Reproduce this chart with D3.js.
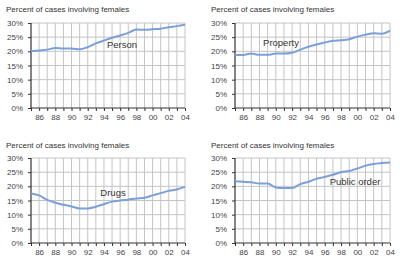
<!DOCTYPE html>
<html><head><meta charset="utf-8">
<script src="https://cdn.jsdelivr.net/npm/d3@7"></script>
<style>body{margin:0;background:#fff}svg{display:block}text{font-family:"Liberation Sans",Arial,sans-serif}</style>
</head><body><svg id="c" width="400" height="261"></svg>
<script>
const years = d3.range(1985, 2005);
const yTicks = [0, 5, 10, 15, 20, 25, 30];
const xTickYears = [1986, 1988, 1990, 1992, 1994, 1996, 1998, 2000, 2002, 2004];
const titleText = "Percent of cases involving females";
const seriesNames = ["Person", "Property", "Drugs", "Public order"];
const person = [20.0, 20.3, 20.6, 21.2, 21.0, 21.0, 20.7, 21.5, 22.8, 23.8, 24.8, 25.6, 26.5, 27.7, 27.6, 27.8, 28.0, 28.5, 28.9, 29.4];
const property = [18.7, 18.7, 19.2, 18.8, 18.8, 19.2, 19.2, 19.5, 20.6, 21.6, 22.4, 23.1, 23.7, 23.9, 24.3, 25.2, 25.9, 26.4, 26.2, 27.3];
const drugs = [17.5, 16.8, 15.2, 14.2, 13.5, 12.9, 12.2, 12.2, 12.8, 13.7, 14.6, 15.0, 15.3, 15.7, 16.0, 16.8, 17.6, 18.4, 18.9, 19.8];
const publicOrder = [21.8, 21.6, 21.4, 21.0, 21.0, 19.6, 19.4, 19.4, 20.8, 21.6, 22.7, 23.3, 24.1, 25.0, 25.4, 26.3, 27.3, 27.9, 28.2, 28.4];
const seriesValues = [person, property, drugs, publicOrder];

const panels = [
  {x0: 31, x1: 185, y0: 23, y1: 108, tx: 6, ty: 12, lx: 122, ly: 48},
  {x0: 235, x1: 390, y0: 23, y1: 108, tx: 211, ty: 12, lx: 281, ly: 46},
  {x0: 31, x1: 185, y0: 158, y1: 243, tx: 6, ty: 148, lx: 113, ly: 196},
  {x0: 235, x1: 390, y0: 158, y1: 243, tx: 211, ty: 148, lx: 355, ly: 185}
];
const svg = d3.select("#c");
panels.forEach((p, i) => {
  const x = d3.scaleLinear().domain([1985, 2004]).range([p.x0, p.x1]);
  const y = d3.scaleLinear().domain([0, 30]).range([p.y1, p.y0]);
  const g = svg.append("g");
  g.append("text").attr("x", p.tx).attr("y", p.ty).attr("font-size", 8).attr("fill", "#333").text(titleText);
  // grid
  g.selectAll(".vg").data(years.slice(1)).join("line")
    .attr("x1", d => x(d)).attr("x2", d => x(d)).attr("y1", p.y0).attr("y2", p.y1)
    .attr("stroke", "#c4c4c4").attr("stroke-width", 1);
  g.selectAll(".hg").data(yTicks.slice(1)).join("line")
    .attr("x1", p.x0).attr("x2", p.x1).attr("y1", d => y(d)).attr("y2", d => y(d))
    .attr("stroke", "#c4c4c4").attr("stroke-width", 1);
  // axes
  const ya = d3.axisLeft(y).tickValues(yTicks).tickFormat(d => d + "%").tickSize(3).tickPadding(5);
  const ay = g.append("g").attr("transform", `translate(${p.x0},0)`).call(ya);
  const xa = d3.axisBottom(x).tickValues(years).tickFormat(d => xTickYears.includes(d) ? String(d).slice(2) : "").tickSize(3).tickPadding(3);
  const ax = g.append("g").attr("transform", `translate(0,${p.y1})`).call(xa);
  [ay, ax].forEach(a => {
    a.select(".domain").attr("stroke", "#333").attr("stroke-width", 1.2);
    a.selectAll(".tick line").attr("stroke", "#333");
    a.selectAll("text").attr("font-size", 8).attr("fill", "#444").attr("font-family", '"Liberation Sans",Arial,sans-serif');
  });
  ax.select(".domain").attr("d", `M${p.x0},0H${p.x1}`);
  ay.select(".domain").attr("d", `M0,${p.y0}V${p.y1}`);
  // line
  const line = d3.line().x((d, j) => x(years[j])).y(d => y(d)).curve(d3.curveMonotoneX);
  g.append("path").datum(seriesValues[i]).attr("d", line)
    .attr("fill", "none").attr("stroke", "#7b9fdb").attr("stroke-width", 2);
  g.append("text").attr("x", p.lx).attr("y", p.ly).attr("text-anchor", "middle")
    .attr("font-size", 9.5).attr("fill", "#333").text(seriesNames[i]);
});
</script></body></html>
